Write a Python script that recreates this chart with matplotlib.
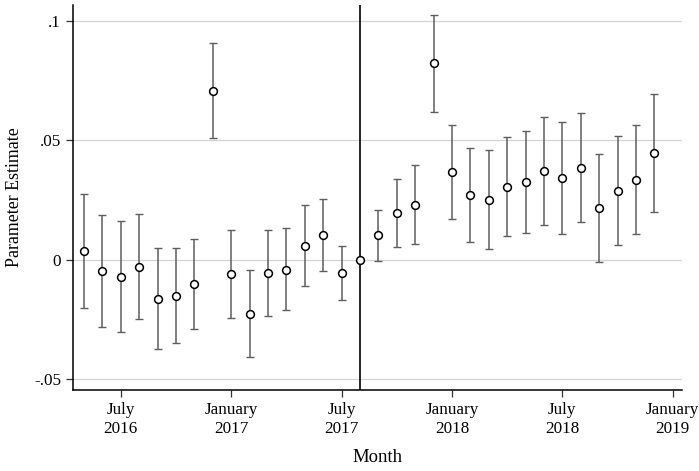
import numpy as np
import matplotlib.pyplot as plt

plt.rcParams['font.family'] = ['Liberation Serif', 'DejaVu Serif']

# monthly estimates, May 2016 .. Dec 2018 (Aug 2017 = reference month)
months = ['2016-05', '2016-06', '2016-07', '2016-08', '2016-09', '2016-10', '2016-11', '2016-12',
          '2017-01', '2017-02', '2017-03', '2017-04', '2017-05', '2017-06', '2017-07', '2017-08',
          '2017-09', '2017-10', '2017-11', '2017-12', '2018-01', '2018-02', '2018-03', '2018-04',
          '2018-05', '2018-06', '2018-07', '2018-08', '2018-09', '2018-10', '2018-11', '2018-12']
est = [0.0035, -0.0049, -0.0071, -0.0031, -0.0163, -0.0152, -0.0101, 0.0708,
       -0.0060, -0.0226, -0.0057, -0.0041, 0.0059, 0.0102, -0.0056, 0.0,
       0.0102, 0.0196, 0.0230, 0.0821, 0.0369, 0.0271, 0.0250, 0.0305,
       0.0324, 0.0372, 0.0342, 0.0385, 0.0217, 0.0289, 0.0335, 0.0447]
ci_hi = [0.0277, 0.0186, 0.0162, 0.0190, 0.0047, 0.0047, 0.0088, 0.0908,
         0.0123, -0.0043, 0.0123, 0.0131, 0.0228, 0.0254, 0.0059, 0.0,
         0.0210, 0.0338, 0.0395, 0.1024, 0.0564, 0.0468, 0.0457, 0.0512,
         0.0538, 0.0598, 0.0575, 0.0615, 0.0444, 0.0517, 0.0564, 0.0693]
ci_lo = [-0.0204, -0.0282, -0.0302, -0.0249, -0.0373, -0.0349, -0.0289, 0.0508,
         -0.0242, -0.0409, -0.0236, -0.0210, -0.0110, -0.0049, -0.0168, 0.0,
         -0.0005, 0.0052, 0.0066, 0.0619, 0.0172, 0.0074, 0.0043, 0.0101,
         0.0112, 0.0145, 0.0109, 0.0156, -0.0011, 0.0063, 0.0108, 0.0201]
ref_month = '2017-08'
tick_months = ['2016-07', '2017-01', '2017-07', '2018-01', '2018-07', '2019-01']
tick_labels = ['July\n2016', 'January\n2017', 'July\n2017', 'January\n2018', 'July\n2018', 'January\n2019']
yticks = [-0.05, 0, 0.05, 0.1]
ytick_labels = ['-.05', '0', '.05', '.1']

def month_index(m):
    y, mo = m.split('-')
    return (int(y) - 2016) * 12 + int(mo) - 5

x = np.array([month_index(m) for m in months])
est = np.array(est)
ci_hi = np.array(ci_hi)
ci_lo = np.array(ci_lo)

fig = plt.figure(figsize=(6.99, 4.71), dpi=100)
ax = fig.add_axes([0.1044, 0.172, 0.8713, 0.817])

for yv in yticks:
    ax.axhline(yv, color='#d4d4d4', lw=0.9, zorder=0)

bars = x != month_index(ref_month)
ax.errorbar(x[bars], est[bars], yerr=[est[bars] - ci_lo[bars], ci_hi[bars] - est[bars]],
            fmt='none', ecolor='#5e5e5e', elinewidth=1.1, capsize=3, capthick=1.0, zorder=2)
ax.plot(x, est, 'o', mfc='white', mec='black', ms=5.6, mew=1.1, zorder=3)
ax.axvline(month_index(ref_month), color='black', lw=1.2, zorder=1)

ax.set_xlim(-0.6, 32.5)
ax.set_ylim(-0.0545, 0.1065)
ax.set_xticks([month_index(m) for m in tick_months])
ax.set_xticklabels(tick_labels, fontsize=12.3, linespacing=1.25)
ax.set_yticks(yticks)
ax.set_yticklabels(ytick_labels, fontsize=12.3)
ax.tick_params(length=5, width=0.9, color='#333333')
ax.spines['top'].set_visible(False)
ax.spines['right'].set_visible(False)
ax.spines['left'].set_linewidth(1.1)
ax.spines['bottom'].set_linewidth(1.1)
ax.set_ylabel('Parameter Estimate', fontsize=12.9, labelpad=8)
ax.set_xlabel('Month', fontsize=13.5, labelpad=9)

fig.savefig('out.png', dpi=100)
